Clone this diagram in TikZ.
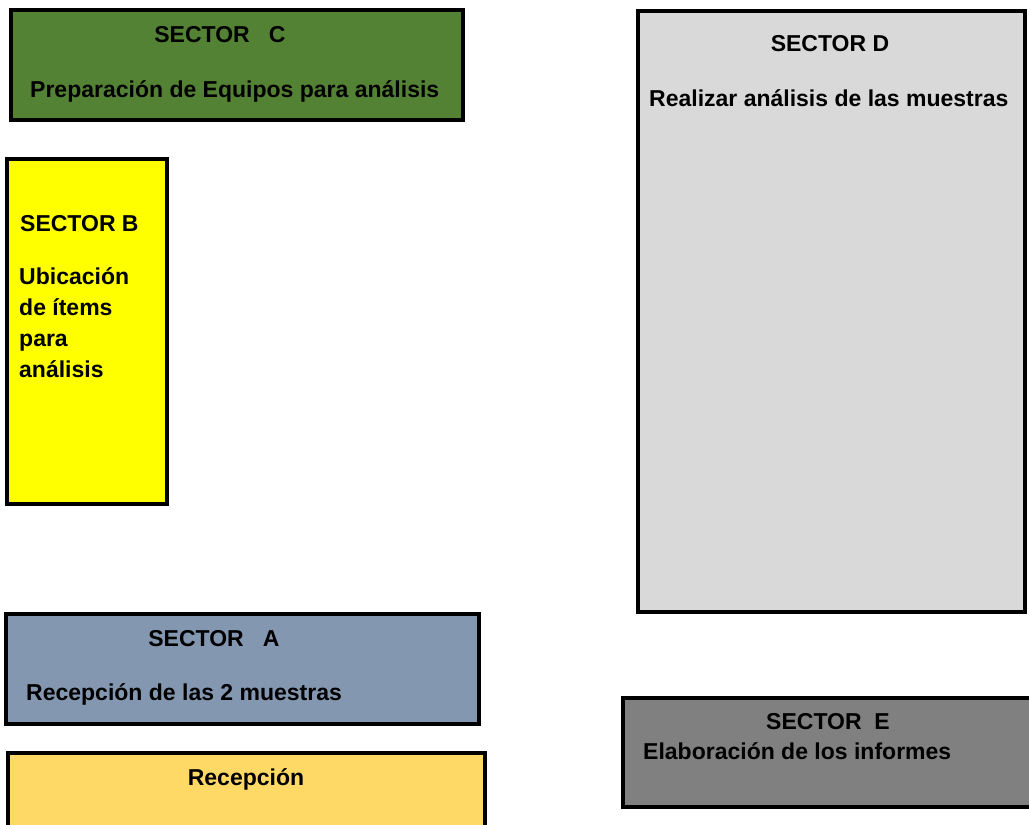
\documentclass[tikz,border=0pt]{standalone}
\usepackage{fontspec}
\setmainfont{Liberation Sans}
\definecolor{sectorC}{HTML}{548235}
\definecolor{sectorB}{HTML}{FFFF00}
\definecolor{sectorA}{HTML}{8497B0}
\definecolor{recep}{HTML}{FFD966}
\definecolor{sectorD}{HTML}{D9D9D9}
\definecolor{sectorE}{HTML}{808080}
\begin{document}
\begin{tikzpicture}[x=1pt,y=-1pt,
  zone/.style={draw=black,line width=4.5pt},
  lbl/.style={inner sep=0pt,font=\fontsize{23}{31}\selectfont\bfseries}]
\useasboundingbox (0,0) rectangle (1029,825);
\fill[white] (0,0) rectangle (1029,825);
\clip (0,0) rectangle (1029,825);

% Sector C
\draw[zone,fill=sectorC] (11,10) rectangle (463,120);
\node[lbl,anchor=base] (cTitle) at (220,42) {SECTOR\ \ \ C};
\node[lbl,anchor=base west] (cText) at (30,97) {Preparación de Equipos para análisis};

% Sector D
\draw[zone,fill=sectorD] (638,11) rectangle (1025,612);
\node[lbl,anchor=base] (dTitle) at (830,51) {SECTOR D};
\node[lbl,anchor=base west] (dText) at (649,106) {Realizar análisis de las muestras};

% Sector B
\draw[zone,fill=sectorB] (7,159) rectangle (167,504);
\node[lbl,anchor=base west] (bTitle) at (20,231) {SECTOR B};
\node[lbl,anchor=base west] (bLineA) at (19,284) {Ubicación};
\node[lbl,anchor=base west] (bLineB) at (19,315) {de ítems};
\node[lbl,anchor=base west] (bLineC) at (19,346) {para};
\node[lbl,anchor=base west] (bLineD) at (19,377) {análisis};

% Sector A
\draw[zone,fill=sectorA] (6,614) rectangle (479,724);
\node[lbl,anchor=base] (aTitle) at (214,646) {SECTOR\ \ \ A};
\node[lbl,anchor=base west] (aText) at (26,700) {Recepción de las 2 muestras};

% Recepcion
\draw[zone,fill=recep] (8,753) rectangle (485,860);
\node[lbl,anchor=base] (rTitle) at (246,785) {Recepción};

% Sector E
\draw[zone,fill=sectorE] (623,698) rectangle (1060,807);
\node[lbl,anchor=base] (eTitle) at (828,729) {SECTOR\ \ E};
\node[lbl,anchor=base west] (eText) at (643,759) {Elaboración de los informes};
\end{tikzpicture}
\end{document}
